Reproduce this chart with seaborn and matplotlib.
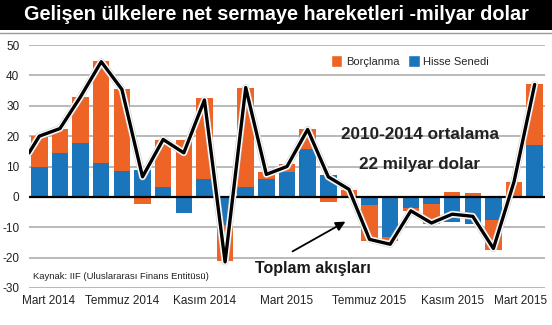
import numpy as np
import pandas as pd
import seaborn as sns
import matplotlib
matplotlib.use("Agg")
import matplotlib.pyplot as plt
import matplotlib.patheffects as pe
from matplotlib.patches import Patch, Rectangle
from matplotlib.lines import Line2D

# ---------------- data ----------------
months = ["Mart 2014", "Nisan 2014", "Mayıs 2014", "Haziran 2014", "Temmuz 2014",
          "Ağustos 2014", "Eylül 2014", "Ekim 2014", "Kasım 2014", "Aralık 2014",
          "Ocak 2015", "Şubat 2015", "Mart 2015", "Nisan 2015", "Mayıs 2015",
          "Haziran 2015", "Temmuz 2015", "Ağustos 2015", "Eylül 2015", "Ekim 2015",
          "Kasım 2015", "Aralık 2015", "Ocak 2016", "Şubat 2016", "Mart 2016"]
hisse = [10, 14.6, 17.6, 11, 8.6, 9, 3.3, -5.2, 6, -9.1, 3.3, 5.8, 8.2, 15.6, 7.1,
         0, -2.7, -13.2, -3.6, -2.2, -8.2, -8.8, -7.5, 0, 17]
borc = [10, 7.9, 15.4, 33.7, 26.8, -2.5, 15.4, 18.7, 26.7, -11.9, 32.7, 2.4, 2.5,
        6.9, -1.6, 2.2, -11.9, -1.3, -1.0, -6.6, 1.6, 1.3, -9.9, 4.9, 20]
# total flows line: first value is the start of the line at the left edge
toplam_start = 14.5
toplam = [20, 22.5, 33, 44.5, 35.4, 6.6, 18.9, 14.5, 31.9, -21.4, 36, 7.4, 10,
          22.2, 6.6, 2.5, -14, -15.6, -4.6, -8.6, -5.7, -6.4, -17, 5, 37]
tick_labels = ["Mart 2014", "Temmuz 2014", "Kasım 2014", "Mart 2015",
               "Temmuz 2015", "Kasım 2015", "Mart 2015"]
yticks = [-30, -20, -10, 0, 10, 20, 30, 40, 50]

ORANGE = "#EE6326"
BLUE = "#1B75BB"

sns.set_theme(style="white")
FONT = ["Liberation Sans Narrow", "Liberation Sans", "DejaVu Sans"]
plt.rcParams["font.family"] = FONT

pos = np.arange(len(months))
h = np.array(hisse, dtype=float)
b = np.array(borc, dtype=float)
same = (np.sign(h) == np.sign(b)) | (h == 0)
outer = np.where(same, h + b, b)

df = pd.DataFrame({"pos": pos, "outer": outer, "hisse": h})
line_df = pd.DataFrame({"x": np.concatenate([[-0.5], pos]),
                        "y": np.concatenate([[toplam_start], toplam])})

fig = plt.figure(figsize=(5.52, 3.25), dpi=100)
ax = fig.add_axes([29 / 552, (325 - 288) / 325, (545 - 29) / 552, (288 - 45) / 325])

for yv in yticks:
    if yv != 0:
        ax.axhline(yv, color="#b3b3b3", lw=1.3, zorder=0)

sns.barplot(data=df, x="pos", y="outer", native_scale=True, color=ORANGE,
            saturation=1, width=0.8, linewidth=0, errorbar=None, ax=ax, zorder=2)
sns.barplot(data=df, x="pos", y="hisse", native_scale=True, color=BLUE,
            saturation=1, width=0.8, linewidth=0, errorbar=None, ax=ax, zorder=3)

ax.axhline(0, color="black", lw=1.6, zorder=4)

sns.lineplot(data=line_df, x="x", y="y", sort=False, color="black", lw=2.4,
             ax=ax, zorder=5,
             path_effects=[pe.Stroke(linewidth=5, foreground="#cfcfcf"),
                           pe.Stroke(linewidth=4.2, foreground="white"),
                           pe.Normal()])

ax.set_xlim(-0.5, len(months) - 0.5)
ax.set_ylim(-30, 50)
ax.set_yticks(yticks)
ax.set_yticklabels([str(v) for v in yticks], fontsize=8.5, color="#222222")
ax.set_xticks([])
# x tick labels (first/last nudged inward as in the reference)
tick_pos = pos[::4]
nudges = [7, 0, 0, 0, 0, 0, -10]
for p, lab, dx in zip(tick_pos, tick_labels, nudges):
    ax.annotate(lab, xy=(p, 0), xycoords=("data", "axes fraction"),
                xytext=(dx, -9.5), textcoords="offset points", ha="center",
                va="center", fontsize=8.5, color="#222222", annotation_clip=False)
ax.tick_params(axis="both", length=0)
ax.tick_params(axis="y", pad=7)
ax.set_xlabel(""); ax.set_ylabel("")
for s in ax.spines.values():
    s.set_visible(False)
ax.set_facecolor("none")

# legend
handles = [Patch(facecolor=ORANGE, label="Borçlanma"),
           Patch(facecolor=BLUE, label="Hisse Senedi")]
fig.legend(handles=handles, loc="center", bbox_to_anchor=(0.743, 0.812), ncol=2,
           frameon=False, fontsize=8, handlelength=1.0, handleheight=1.2,
           handletextpad=0.35, columnspacing=0.8, borderaxespad=0)

# annotations
ax.text(0.757, 0.633, "2010-2014 ortalama", transform=ax.transAxes, ha="center",
        va="center", fontsize=12.3, fontweight="bold", color="#222222", zorder=6)
ax.text(0.757, 0.508, "22 milyar dolar", transform=ax.transAxes, ha="center",
        va="center", fontsize=12.3, fontweight="bold", color="#222222", zorder=6)
ax.annotate("", xy=(14.95, -7.7), xytext=(12.15, -18.4),
            arrowprops=dict(arrowstyle="-|>", color="black", lw=1.3,
                            mutation_scale=14), zorder=6)
ax.text(0.551, 0.082, "Toplam akışları", transform=ax.transAxes, ha="center",
        va="center", fontsize=11.5, fontweight="bold", color="#1a1a1a", zorder=6)
ax.text(0.008, 0.049, "Kaynak: IIF (Uluslararası Finans Entitüsü)",
        transform=ax.transAxes, ha="left", va="center", fontsize=6.8,
        color="#222222", zorder=6)

# title bar
fig.patches.append(Rectangle((0, 1 - 30 / 325), 1, 30 / 325, transform=fig.transFigure,
                             facecolor="black", edgecolor="none", zorder=0))
fig.lines.append(Line2D([0, 1], [1 - 32.5 / 325] * 2, transform=fig.transFigure,
                        color="#9a9a9a", lw=1))
fig.text(0.5, 1 - 15 / 325, "Gelişen ülkelere net sermaye hareketleri -milyar dolar",
         ha="center", va="center", fontsize=14.3, fontweight="bold", color="white")

fig.savefig("out.png", dpi=100)
